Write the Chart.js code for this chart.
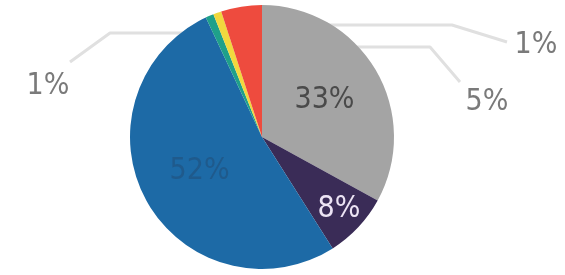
<!DOCTYPE html>
<html>
<head>
<meta charset="utf-8">
<script src="https://cdn.jsdelivr.net/npm/chart.js@4"></script>
<style>
    html, body { margin: 0; padding: 0; background: #ffffff; }
    #wrap { width: 565px; height: 275px; }
</style>
</head>
<body>
<div id="wrap"><canvas id="pieChart" width="565" height="275"></canvas></div>
<script>
// Data (percent shares, clockwise from 12 o'clock)
const categories = ['Gray', 'Purple', 'Blue', 'Green', 'Yellow', 'Red'];
const shares = [33, 8, 52, 1, 1, 5];
const sliceColors = ['#a4a4a4', '#3a2c57', '#1d6aa6', '#1fa08a', '#f1d83e', '#ee4b3e'];

// Label styles: inside slices (radius fraction) or outside with leader line
const insideLabels = [
    { index: 0, radius: 0.55, color: '#4a4a4a' },
    { index: 1, radius: 0.8, color: '#ece4f4' },
    { index: 2, radius: 0.54, color: '#1f5a8c' }
];
// offsets relative to the pie centre, in pixels; lineEnd is relative to the label
const outsideLabels = [
    { index: 3, elbow: [-152, -104], label: [-214, -51], lineEnd: [22, -24] },
    { index: 4, elbow: [190, -112], label: [274, -92], lineEnd: [-29, -3] },
    { index: 5, elbow: [168, -90], label: [225, -35], lineEnd: [-27, -20] }
];

const labelFont = '30px "DejaVu Sans Condensed", "DejaVu Sans", sans-serif';

const leaderLines = {
    id: 'leaderLines',
    beforeDatasetsDraw(chart) {
        const ctx = chart.ctx;
        const arcs = chart.getDatasetMeta(0).data;
        ctx.save();
        ctx.strokeStyle = '#e0e0e0';
        ctx.lineWidth = 3;
        ctx.lineJoin = 'round';
        outsideLabels.forEach(o => {
            const arc = arcs[o.index];
            const mid = (arc.startAngle + arc.endAngle) / 2;
            const sx = arc.x + Math.cos(mid) * arc.outerRadius * 0.5;
            const ex = arc.x + o.elbow[0];
            const ey = arc.y + o.elbow[1];
            const lx = arc.x + o.label[0] + o.lineEnd[0];
            const ly = arc.y + o.label[1] + o.lineEnd[1];
            ctx.beginPath();
            ctx.moveTo(sx, ey);
            ctx.lineTo(ex, ey);
            ctx.lineTo(lx, ly);
            ctx.stroke();
        });
        ctx.restore();
    }
};

const sliceLabels = {
    id: 'sliceLabels',
    afterDatasetsDraw(chart) {
        const ctx = chart.ctx;
        const arcs = chart.getDatasetMeta(0).data;
        ctx.save();
        ctx.font = labelFont;
        ctx.textAlign = 'center';
        ctx.textBaseline = 'middle';
        insideLabels.forEach(l => {
            const arc = arcs[l.index];
            const mid = (arc.startAngle + arc.endAngle) / 2;
            const r = arc.outerRadius * l.radius;
            ctx.fillStyle = l.color;
            ctx.fillText(shares[l.index] + '%', arc.x + Math.cos(mid) * r, arc.y + Math.sin(mid) * r);
        });
        ctx.fillStyle = '#7a7a7a';
        outsideLabels.forEach(o => {
            const arc = arcs[o.index];
            ctx.fillText(shares[o.index] + '%', arc.x + o.label[0], arc.y + o.label[1]);
        });
        ctx.restore();
    }
};

new Chart(document.getElementById('pieChart'), {
    type: 'pie',
    data: {
        labels: categories,
        datasets: [{
            data: shares,
            backgroundColor: sliceColors,
            borderWidth: 0
        }]
    },
    options: {
        responsive: false,
        animation: false,
        layout: { padding: { top: 5, bottom: 6, left: 0, right: 41 } },
        plugins: {
            legend: { display: false },
            tooltip: { enabled: false }
        }
    },
    plugins: [leaderLines, sliceLabels]
});
</script>
</body>
</html>
